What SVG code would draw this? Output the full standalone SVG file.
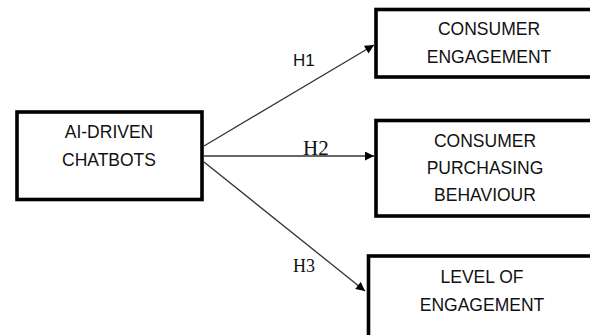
<svg xmlns="http://www.w3.org/2000/svg" width="590" height="335" viewBox="0 0 590 335">
  <style>
    .box { fill: #ffffff; stroke: #000000; stroke-width: 3.6; }
    .label { font-family: "Liberation Sans", Arial, sans-serif; font-size: 17.5px; fill: #111111; text-anchor: middle; }
    .hyp { font-family: "Liberation Serif", "Times New Roman", serif; fill: #111111; }
    .link { stroke: #333333; stroke-width: 1.3; fill: none; marker-end: url(#arrow); }
  </style>
  <defs>
    <marker id="arrow" viewBox="0 0 10 10" refX="10" refY="5" markerWidth="11" markerHeight="9" markerUnits="userSpaceOnUse" orient="auto">
      <path d="M0,0 L10,5 L0,10 Z" fill="#000000"/>
    </marker>
  </defs>
  <rect width="590" height="335" fill="#ffffff"/>

  <!-- connectors -->
  <g id="connectors">
    <line class="link" x1="204" y1="146" x2="374" y2="45"/>
    <line class="link" x1="204" y1="156" x2="374" y2="156"/>
    <line class="link" x1="204" y1="162" x2="365" y2="291"/>
    <text class="hyp" x="293" y="66" style="font-family: 'Liberation Sans', Arial, sans-serif; font-size: 17px;">H1</text>
    <text class="hyp" x="303" y="155" font-size="21">H2</text>
    <text class="hyp" x="293" y="272" font-size="18">H3</text>
  </g>

  <!-- source node -->
  <g id="ai-driven-chatbots">
    <rect class="box" x="17" y="112" width="185" height="87.5"/>
    <text class="label" x="109" y="138">AI-DRIVEN</text>
    <text class="label" x="109" y="166">CHATBOTS</text>
  </g>

  <!-- outcome nodes -->
  <g id="consumer-engagement">
    <rect class="box" x="376" y="9.5" width="230" height="67.5"/>
    <text class="label" x="489" y="35">CONSUMER</text>
    <text class="label" x="489" y="63">ENGAGEMENT</text>
  </g>

  <g id="consumer-purchasing-behaviour">
    <rect class="box" x="376" y="120.5" width="230" height="95.5"/>
    <text class="label" x="485" y="147">CONSUMER</text>
    <text class="label" x="485" y="174">PURCHASING</text>
    <text class="label" x="485" y="201">BEHAVIOUR</text>
  </g>

  <g id="level-of-engagement">
    <rect class="box" x="368.5" y="256" width="240" height="100"/>
    <text class="label" x="482" y="283">LEVEL OF</text>
    <text class="label" x="482" y="311">ENGAGEMENT</text>
  </g>
</svg>
